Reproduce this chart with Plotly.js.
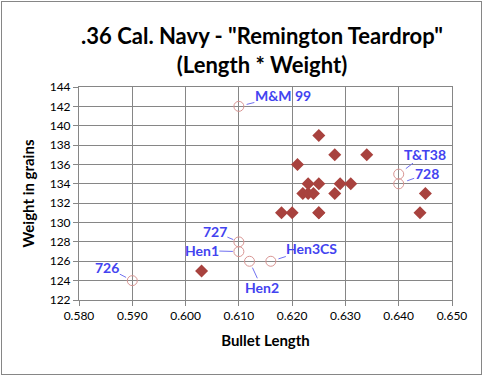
<!DOCTYPE html>
<html>
<head>
<meta charset="utf-8">
<script src="https://cdn.plot.ly/plotly-3.0.1.min.js"></script>
<style>
html,body{margin:0;padding:0;background:#fff;}
#wrap{position:relative;width:483px;height:376px;}
#chart{width:483px;height:376px;}
#frame{position:absolute;left:1px;top:1px;width:479px;height:372px;border:1px solid #868686;pointer-events:none;}
</style>
</head>
<body>
<div id="wrap"><div id="chart"></div><div id="frame"></div></div>
<script>
// Measured bullets (filled diamonds)
const lengthMeasured = [0.603, 0.618, 0.620, 0.621, 0.622, 0.623, 0.623, 0.624, 0.625, 0.625, 0.625, 0.625, 0.628, 0.628, 0.629, 0.631, 0.634, 0.644, 0.645];
const weightMeasured = [125, 131, 131, 136, 133, 133, 134, 133, 131, 134, 139, 131, 133, 137, 134, 134, 137, 131, 133];
// Named moulds (open circles)
const mouldNames = ["M&M 99", "T&T38", "728", "727", "Hen1", "Hen2", "Hen3CS", "726"];
const mouldLength = [0.610, 0.640, 0.640, 0.610, 0.610, 0.612, 0.616, 0.590];
const mouldWeight = [142, 135, 134, 128, 127, 126, 126, 124];
// Label offsets (pixels) for leader lines
const labelAx = [44, 26, 28, -24, -37, 12, 41, -25];
const labelAy = [-11, -20, -10, -10, -1, 26, -13, -13];
const labelStandoff = [8, 9, 9, 6, 6, 7, 8, 7];

const font = "Lato, 'Open Sans', sans-serif";

const traces = [
  {
    x: lengthMeasured, y: weightMeasured, type: 'scatter', mode: 'markers',
    marker: {symbol: 'diamond', size: 10, color: '#A8423E', line: {width: 0}},
    hoverinfo: 'x+y', showlegend: false
  },
  {
    x: mouldLength, y: mouldWeight, text: mouldNames, type: 'scatter', mode: 'markers',
    marker: {symbol: 'circle-open', size: 10, color: '#D99694', line: {width: 1, color: '#D99694'}},
    showlegend: false
  }
];

const annotations = mouldNames.map((n, i) => ({
  x: mouldLength[i], y: mouldWeight[i], xref: 'x', yref: 'y',
  text: '<b>' + n + '</b>', showarrow: true, arrowhead: 0, arrowwidth: 1,
  arrowcolor: '#7070F0', ax: labelAx[i], ay: labelAy[i], standoff: labelStandoff[i],
  font: {family: font, size: 14, color: '#4343F0'}, borderpad: 0
}));

const layout = {
  width: 483, height: 376,
  margin: {l: 79, r: 31, t: 87, b: 76},
  paper_bgcolor: '#ffffff', plot_bgcolor: '#ffffff',
  font: {family: font, size: 12, color: '#000'},
  title: {
    text: '<b>.36 Cal. Navy - "Remington Teardrop"<br>(Length * Weight)</b>',
    font: {family: font, size: 22, color: '#000'},
    x: 262/483, xanchor: 'center', xref: 'container',
    y: 1 - 44/376, yanchor: 'middle', yref: 'container'
  },
  xaxis: {
    range: [0.58, 0.65], dtick: 0.01, tick0: 0.58, tickformat: '.3f',
    showgrid: true, gridcolor: '#868686', gridwidth: 1,
    showline: true, linecolor: '#868686', linewidth: 1, mirror: true,
    ticks: 'outside', ticklen: 5, tickcolor: '#868686',
    zeroline: false, tickfont: {family: font, size: 12},
    title: {text: '<b>Bullet Length</b>', font: {family: font, size: 15}, standoff: 13}
  },
  yaxis: {
    range: [122, 144], dtick: 2, tick0: 122,
    showgrid: true, gridcolor: '#868686', gridwidth: 1,
    showline: true, linecolor: '#868686', linewidth: 1, mirror: true,
    ticks: 'outside', ticklen: 5, tickcolor: '#868686',
    zeroline: false, tickfont: {family: font, size: 12},
    title: {text: '<b>Weight in grains</b>', font: {family: font, size: 15}, standoff: 11}
  },
  annotations: annotations,
  showlegend: false
};

Plotly.newPlot('chart', traces, layout, {displayModeBar: false, staticPlot: true});
</script>
</body>
</html>
